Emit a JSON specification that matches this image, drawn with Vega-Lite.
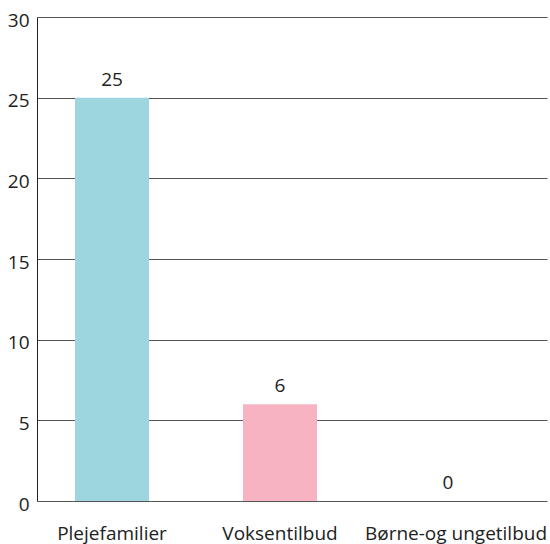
{
  "$schema": "https://vega.github.io/schema/vega-lite/v6.json",
  "autosize": "none",
  "width": 510,
  "height": 484,
  "padding": {"left": 37, "top": 17, "right": 3, "bottom": 43},
  "background": "white",
  "config": {
    "view": {"stroke": null},
    "font": "Open Sans",
    "axis": {"labelFont": "Open Sans", "labelColor": "#222", "labelFontSize": 19}
  },
  "data": {
    "values": [
      {"kategori": "Plejefamilier", "antal": 25},
      {"kategori": "Voksentilbud", "antal": 6},
      {"kategori": "Børne-og ungetilbud", "antal": 0}
    ]
  },
  "encoding": {
    "x": {
      "field": "kategori",
      "type": "nominal",
      "sort": null,
      "title": null,
      "scale": {"paddingInner": 0.5595, "paddingOuter": 0.2976, "align": 0.38},
      "axis": {
        "labelAngle": 0,
        "ticks": false,
        "domain": false,
        "labelPadding": 23,
        "labelLimit": 0,
        "labelOffset": {"condition": {"test": "datum.value === 'Børne-og ungetilbud'", "value": 8}, "value": 0}
      }
    },
    "y": {
      "field": "antal",
      "type": "quantitative",
      "title": null,
      "scale": {"domain": [0, 30], "nice": false},
      "axis": {
        "values": [0, 5, 10, 15, 20, 25, 30],
        "ticks": false,
        "domain": true,
        "domainColor": "#222",
        "domainWidth": 1,
        "gridColor": "#555",
        "gridOpacity": 1,
        "gridWidth": 1,
        "labelPadding": 8,
        "labelOffset": 3
      }
    }
  },
  "layer": [
    {
      "mark": {"type": "bar"},
      "encoding": {
        "color": {
          "field": "kategori",
          "type": "nominal",
          "legend": null,
          "scale": {
            "domain": ["Plejefamilier", "Voksentilbud", "Børne-og ungetilbud"],
            "range": ["#9dd6df", "#f7b3c2", "#c9c9c9"]
          }
        }
      }
    },
    {
      "mark": {"type": "text", "baseline": "bottom", "dy": -8, "fontSize": 19, "color": "#222", "font": "Open Sans"},
      "encoding": {"text": {"field": "antal", "type": "quantitative"}}
    }
  ]
}
